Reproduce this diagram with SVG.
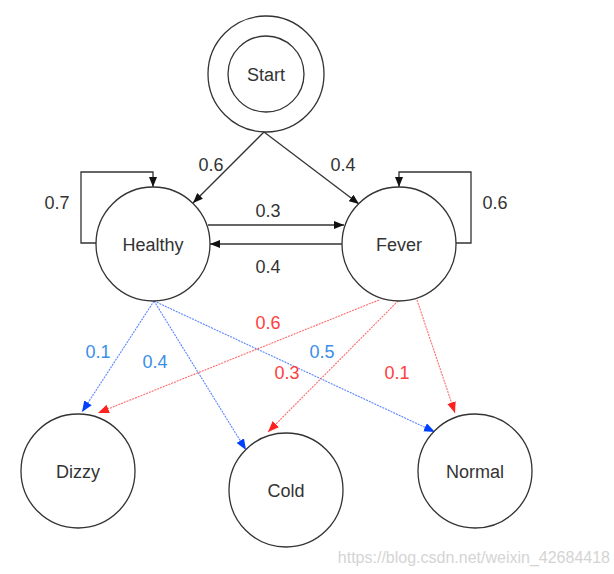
<svg xmlns="http://www.w3.org/2000/svg" width="614" height="574" viewBox="0 0 614 574">
<style>
.node{fill:#fff;stroke:#333;stroke-width:1.3}
.nt{font-family:"Liberation Sans",Arial,sans-serif;font-size:18px;fill:#333;text-anchor:middle}
.lbl{font-family:"Liberation Sans",Arial,sans-serif;font-size:18px;text-anchor:middle}
.k{fill:#333}
.b{fill:#3a8ee6}
.r{fill:#ff4040}
.ek{fill:none;stroke:#333;stroke-width:1.3}
.eb{fill:none;stroke:#5a85ff;stroke-width:1.1;stroke-dasharray:2,1}
.er{fill:none;stroke:#ff6b6b;stroke-width:1.1;stroke-dasharray:2,1}
</style>
<defs>
<marker id="ak" markerUnits="userSpaceOnUse" viewBox="0 0 10 8" refX="10" refY="4" markerWidth="10" markerHeight="8" orient="auto"><path d="M0,0 L10,4 L0,8 z" fill="#111"/></marker>
<marker id="ab" markerUnits="userSpaceOnUse" viewBox="0 0 10 8" refX="10" refY="4" markerWidth="11" markerHeight="9" orient="auto"><path d="M0,0 L10,4 L0,8 z" fill="#0040ff"/></marker>
<marker id="ar" markerUnits="userSpaceOnUse" viewBox="0 0 10 8" refX="10" refY="4" markerWidth="11" markerHeight="9" orient="auto"><path d="M0,0 L10,4 L0,8 z" fill="#ff2020"/></marker>
</defs>
<rect width="614" height="574" fill="#fff"/>
<g id="connectors">
<line class="ek" x1="264" y1="132" x2="193" y2="203" marker-end="url(#ak)"/>
<line class="ek" x1="264" y1="132" x2="359" y2="204" marker-end="url(#ak)"/>
<path class="ek" d="M96,243 H81 V172 H153 V187" marker-end="url(#ak)"/>
<path class="ek" d="M456,243 H471 V172 H399 V187" marker-end="url(#ak)"/>
<line class="ek" x1="208" y1="225" x2="344" y2="225" marker-end="url(#ak)"/>
<line class="ek" x1="342" y1="244" x2="210" y2="244" marker-end="url(#ak)"/>
<line class="eb" x1="154" y1="301" x2="82" y2="412" marker-end="url(#ab)"/>
<line class="eb" x1="154" y1="301" x2="246" y2="450" marker-end="url(#ab)"/>
<line class="eb" x1="154" y1="301" x2="435" y2="432" marker-end="url(#ab)"/>
<line class="er" x1="379" y1="300" x2="98" y2="413" marker-end="url(#ar)"/>
<line class="er" x1="398" y1="301" x2="268" y2="432" marker-end="url(#ar)"/>
<line class="er" x1="417" y1="300" x2="455" y2="413" marker-end="url(#ar)"/>
<text class="lbl k" x="211" y="171">0.6</text>
<text class="lbl k" x="343" y="171">0.4</text>
<text class="lbl k" x="57" y="209">0.7</text>
<text class="lbl k" x="495" y="209">0.6</text>
<text class="lbl k" x="268" y="217">0.3</text>
<text class="lbl k" x="268" y="273">0.4</text>
<text class="lbl b" x="98" y="358">0.1</text>
<text class="lbl b" x="155" y="368">0.4</text>
<text class="lbl b" x="322" y="358">0.5</text>
<text class="lbl r" x="268" y="329">0.6</text>
<text class="lbl r" x="287" y="379">0.3</text>
<text class="lbl r" x="397" y="379">0.1</text>
</g>
<g id="start">
<circle class="node" cx="266" cy="74" r="58"/>
<circle class="node" cx="266" cy="74" r="38"/>
<text class="nt" x="266" y="81">Start</text>
</g>
<g id="healthy">
<circle class="node" cx="153" cy="244" r="57"/>
<text class="nt" x="153" y="251">Healthy</text>
</g>
<g id="fever">
<circle class="node" cx="399" cy="244" r="57"/>
<text class="nt" x="399" y="251">Fever</text>
</g>
<g id="dizzy">
<circle class="node" cx="78" cy="471" r="57"/>
<text class="nt" x="78" y="478">Dizzy</text>
</g>
<g id="cold">
<circle class="node" cx="286" cy="490" r="57"/>
<text class="nt" x="286" y="497">Cold</text>
</g>
<g id="normal">
<circle class="node" cx="475" cy="471" r="57"/>
<text class="nt" x="475" y="478">Normal</text>
</g>
<text x="610" y="563" font-family="Liberation Sans,Arial,sans-serif" font-size="16" fill="#d4d4d4" text-anchor="end">https://blog.csdn.net/weixin_42684418</text>
</svg>
